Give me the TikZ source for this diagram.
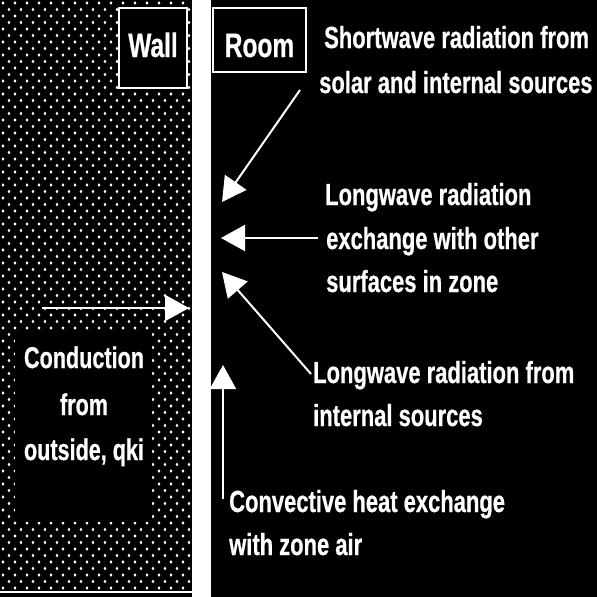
\documentclass[tikz,border=0pt]{standalone}
\usepackage{fontspec}
\setmainfont{Liberation Sans}[FakeStretch=0.72,BoldFeatures={FakeBold=0.6}]
\usetikzlibrary{arrows.meta}
\begin{document}
\begin{tikzpicture}[x=1pt,y=-1pt,
  lbl/.style={text=white,font=\bfseries\fontsize{30.5}{34}\selectfont,anchor=base west,inner sep=0pt},
  ctr/.style={text=white,font=\bfseries\fontsize{30}{34}\selectfont,anchor=base,inner sep=0pt},
  tag/.style={text=white,font=\bfseries\fontsize{34}{38}\selectfont,anchor=base,inner sep=0pt},
  tagbox/.style={draw=white,line width=2.5pt,fill=black},
  arr/.style={draw=white,line width=2pt,-{Triangle[length=24pt,width=26pt]}}]
\fill[black] (0,0) rectangle (597,597);
\useasboundingbox (0,0) rectangle (597,597);
% dotted wall
\begin{scope}
  \clip (0,0) rectangle (191,591);
  \foreach \r in {0,...,91}{
    \foreach \c in {0,...,16}{
      \fill[white] ({3+12*\c+6*mod(\r,2)},{3+6.5*\r}) ellipse (1.4pt and 1.8pt);
    }
  }
\end{scope}
\draw[white,line width=1.5pt] (0,592) -- (192,592);
% wall surface
\fill[white] (192,0) rectangle (211,597);
% boxes
\draw[tagbox] (119,8) rectangle (187,88);
\node[tag] (wall) at (153,57) {Wall};
\draw[tagbox] (213,8) rectangle (306,72);
\node[tag] (room) at (259.5,57) {Room};
\fill[black] (15,332) rectangle (152,522);
\node[ctr] (cond1) at (84,368) {Conduction};
\node[ctr] (cond2) at (84,415) {from};
\node[ctr] (cond3) at (84,460) {outside, qki};
% labels
\node[lbl] (sw1) at (324,48) {Shortwave radiation from};
\node[lbl] (sw2) at (319,93) {solar and internal sources};
\node[lbl] (lw1) at (325,205) {Longwave radiation};
\node[lbl] (lw2) at (326,249) {exchange with other};
\node[lbl] (lw3) at (326,292) {surfaces in zone};
\node[lbl] (li1) at (313,383) {Longwave radiation from};
\node[lbl] (li2) at (313,426) {internal sources};
\node[lbl] (cv1) at (229,512) {Convective heat exchange};
\node[lbl] (cv2) at (229,555) {with zone air};
% arrow ends
\coordinate (condtail) at (42,308);
\coordinate (condtip) at (189,308);
\coordinate (swtail) at (300,90);
\coordinate (swtip) at (222,202);
\coordinate (lwtail) at (318,238);
\coordinate (lwtip) at (221,238);
\coordinate (litail) at (311,374);
\coordinate (litip) at (222,272);
\coordinate (cvtail) at (223,499);
\coordinate (cvtip) at (223,365);
% arrows
\draw[arr] (condtail) -- (condtip);
\draw[arr] (swtail) -- (swtip);
\draw[arr] (lwtail) -- (lwtip);
\draw[arr] (litail) -- (litip);
\draw[arr] (cvtail) -- (cvtip);
\end{tikzpicture}
\end{document}
